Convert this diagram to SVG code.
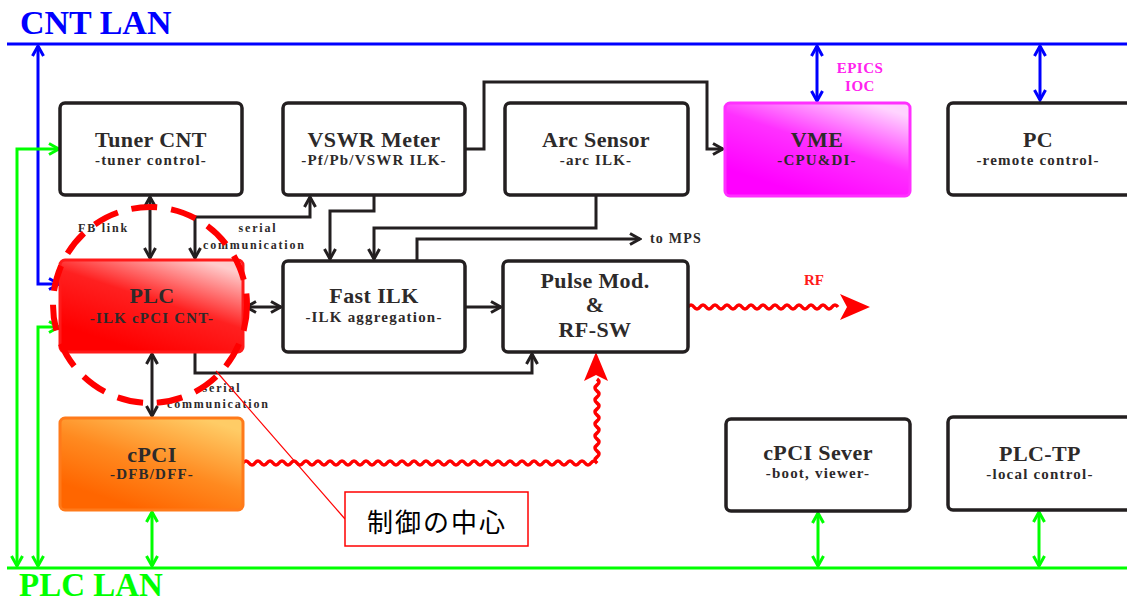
<svg xmlns="http://www.w3.org/2000/svg" width="1127" height="602" viewBox="0 0 1127 602">
<style>
.box{fill:#fff;stroke:#231f20;stroke-width:3.5}
.t{font-family:"Liberation Serif",serif;font-weight:bold;fill:#2d2a2a;text-anchor:middle}
.tt{font-size:22px;letter-spacing:0.4px}
.st{font-size:15px;letter-spacing:1.2px}
.lbl{font-family:"Liberation Serif",serif;font-weight:bold;fill:#2d2a2a;font-size:12px;letter-spacing:1.8px}
.dk{fill:none;stroke:#231f20;stroke-width:3}
.bl{fill:none;stroke:#0000ff;stroke-width:3}
.gr{fill:none;stroke:#00ff00;stroke-width:3}
.wave{fill:none;stroke:#ff0000;stroke-width:3.5}
.lan{font-family:"Liberation Serif",serif;font-weight:bold;font-size:34px}
</style>
<defs>
<marker id="aDk" markerUnits="userSpaceOnUse" markerWidth="14" markerHeight="14" viewBox="0 0 14 14" refX="12" refY="7" orient="auto-start-reverse"><path d="M2,1.5 L12,7 L2,12.5" fill="none" stroke="#231f20" stroke-width="3"/></marker>
<marker id="aBl" markerUnits="userSpaceOnUse" markerWidth="14" markerHeight="14" viewBox="0 0 14 14" refX="12" refY="7" orient="auto-start-reverse"><path d="M2,1.5 L12,7 L2,12.5" fill="none" stroke="#0000ff" stroke-width="3"/></marker>
<marker id="aGr" markerUnits="userSpaceOnUse" markerWidth="14" markerHeight="14" viewBox="0 0 14 14" refX="12" refY="7" orient="auto-start-reverse"><path d="M2,1.5 L12,7 L2,12.5" fill="none" stroke="#00ff00" stroke-width="3"/></marker>
<linearGradient id="gPlc" x1="0.3" y1="0.9" x2="0.85" y2="0.05"><stop offset="0" stop-color="#ff0000"/><stop offset="0.5" stop-color="#ff2020"/><stop offset="1" stop-color="#ffcccc"/></linearGradient>
<linearGradient id="gCpci" x1="0.3" y1="0.9" x2="0.85" y2="0.05"><stop offset="0" stop-color="#ff6600"/><stop offset="0.45" stop-color="#ff8a20"/><stop offset="1" stop-color="#ffcc66"/></linearGradient>
<linearGradient id="gVme" x1="0.3" y1="0.9" x2="0.85" y2="0.05"><stop offset="0" stop-color="#ff00ff"/><stop offset="0.5" stop-color="#ff30ff"/><stop offset="1" stop-color="#ffd4ff"/></linearGradient>
</defs>

<g id="lans">
<line x1="7" y1="44" x2="1127" y2="44" stroke="#0000ff" stroke-width="3"/>
<text x="20" y="34" class="lan" fill="#0000ff">CNT LAN</text>
<line x1="7" y1="568" x2="1127" y2="568" stroke="#00ff00" stroke-width="3"/>
<text x="19" y="596" class="lan" fill="#00ff00" style="font-size:33px">PLC LAN</text>
</g>

<g id="connectors">
<path class="bl" d="M38,46 V284 H59" marker-start="url(#aBl)" marker-end="url(#aBl)"/>
<path class="gr" d="M17,566 V149 H59" marker-start="url(#aGr)" marker-end="url(#aGr)"/>
<path class="gr" d="M38,566 V327 H59" marker-start="url(#aGr)" marker-end="url(#aGr)"/>
<path class="bl" d="M817,46 V101" marker-start="url(#aBl)" marker-end="url(#aBl)"/>
<path class="bl" d="M1040,46 V100" marker-start="url(#aBl)" marker-end="url(#aBl)"/>
<path class="dk" d="M150,197 V258" marker-start="url(#aDk)" marker-end="url(#aDk)"/>
<path class="dk" d="M195,258 V217 H310 V197" marker-start="url(#aDk)" marker-end="url(#aDk)"/>
<path class="dk" d="M466,149 H484 V82 H707 V149 H723" marker-end="url(#aDk)"/>
<path class="dk" d="M374,195 V211 H330 V259" marker-end="url(#aDk)"/>
<path class="dk" d="M596,195 V228 H374 V259" marker-end="url(#aDk)"/>
<path class="dk" d="M417,261 V239 H640" marker-end="url(#aDk)"/>
<path class="dk" d="M246,307 H281" marker-start="url(#aDk)" marker-end="url(#aDk)"/>
<path class="dk" d="M466,307 H501" marker-end="url(#aDk)"/>
<path class="dk" d="M195,353 V373 H532 V354" marker-end="url(#aDk)"/>
<path class="dk" d="M152,354 V416" marker-start="url(#aDk)" marker-end="url(#aDk)"/>
<path class="gr" d="M152,512 V566" marker-start="url(#aGr)" marker-end="url(#aGr)"/>
<path class="gr" d="M818,513 V566" marker-start="url(#aGr)" marker-end="url(#aGr)"/>
<path class="gr" d="M1039,512 V566" marker-start="url(#aGr)" marker-end="url(#aGr)"/>
<path class="wave" d="M243,463 q3,-4 6,0 t6,0 t6,0 t6,0 t6,0 t6,0 t6,0 t6,0 t6,0 t6,0 t6,0 t6,0 t6,0 t6,0 t6,0 t6,0 t6,0 t6,0 t6,0 t6,0 t6,0 t6,0 t6,0 t6,0 t6,0 t6,0 t6,0 t6,0 t6,0 t6,0 t6,0 t6,0 t6,0 t6,0 t6,0 t6,0 t6,0 t6,0 t6,0 t6,0 t6,0 t6,0 t6,0 t6,0 t6,0 t6,0 t6,0 t6,0 t6,0 t6,0 t6,0 t6,0 t6,0 t6,0 t6,0 t6,0 t6,0 t6,0 t6,0 q-4,-3 0,-6 t0,-6 t0,-6 t0,-6 t0,-6 t0,-6 t0,-6 t0,-6 t0,-6 t0,-6 t0,-6 t0,-6 t0,-6 t0,-6"/>
<polygon points="584,381 596,352 608,381 596,375" fill="#ff0000"/>
<path class="wave" d="M688,307 q3,-4 6,0 t6,0 t6,0 t6,0 t6,0 t6,0 t6,0 t6,0 t6,0 t6,0 t6,0 t6,0 t6,0 t6,0 t6,0 t6,0 t6,0 t6,0 t6,0 t6,0 t6,0 t6,0 t6,0 t6,0 t6,0"/>
<polygon points="840,294 870,307 840,320 847,307" fill="#ff0000"/>
<text x="814" y="285" class="t" style="font-size:15px;fill:#ff1a1a">RF</text>
<text x="860" y="73" class="t" style="font-size:15px;fill:#ff22ee;letter-spacing:0.5px">EPICS</text>
<text x="860" y="91" class="t" style="font-size:15px;fill:#ff22ee;letter-spacing:0.5px">IOC</text>
<text x="650" y="243" class="lbl" style="font-size:14px;letter-spacing:1.2px">to MPS</text>
<text x="78" y="232" class="lbl">FB link</text>
<text x="258" y="232" class="lbl" text-anchor="middle">serial</text>
<text x="203" y="249" class="lbl">communication</text>
<text x="222" y="392" class="lbl" text-anchor="middle">serial</text>
<text x="167" y="408" class="lbl">communication</text>
</g>

<g id="tuner">
<rect class="box" x="60" y="103" width="182" height="92" rx="5"/>
<text x="151" y="147" class="t tt">Tuner CNT</text>
<text x="151" y="165" class="t st">-tuner control-</text>
</g>
<g id="vswr">
<rect class="box" x="283" y="103" width="182" height="92" rx="5"/>
<text x="374" y="147" class="t tt">VSWR Meter</text>
<text x="374" y="165" class="t st">-Pf/Pb/VSWR ILK-</text>
</g>
<g id="arc">
<rect class="box" x="505" y="103" width="183" height="92" rx="5"/>
<text x="596" y="147" class="t tt">Arc Sensor</text>
<text x="596" y="165" class="t st">-arc ILK-</text>
</g>
<g id="vme">
<rect x="725" y="103" width="185" height="93" rx="5" fill="url(#gVme)" stroke="#ff30ff" stroke-width="3"/>
<text x="817" y="147" class="t tt">VME</text>
<text x="817" y="165" class="t st">-CPU&amp;DI-</text>
</g>
<g id="pc">
<rect class="box" x="948" y="103" width="185" height="92" rx="5"/>
<text x="1038" y="147" class="t tt">PC</text>
<text x="1038" y="165" class="t st">-remote control-</text>
</g>
<g id="plc">
<rect x="60" y="260" width="183" height="92" rx="5" fill="url(#gPlc)" stroke="#ff1a1a" stroke-width="3"/>
<text x="152" y="303" class="t tt">PLC</text>
<text x="152" y="323" class="t st">-ILK cPCI CNT-</text>
</g>
<g id="fastilk">
<rect class="box" x="283" y="261" width="182" height="91" rx="5"/>
<text x="374" y="303" class="t tt">Fast ILK</text>
<text x="374" y="322" class="t st">-ILK aggregation-</text>
</g>
<g id="pulsemod">
<rect class="box" x="503" y="261" width="185" height="91" rx="5"/>
<text x="595" y="288" class="t tt">Pulse Mod.</text>
<text x="595" y="312" class="t tt">&amp;</text>
<text x="595" y="337" class="t tt">RF-SW</text>
</g>
<g id="cpci">
<rect x="60" y="418" width="183" height="92" rx="5" fill="url(#gCpci)" stroke="#ff7a1a" stroke-width="3"/>
<text x="152" y="462" class="t tt">cPCI</text>
<text x="152" y="479" class="t st">-DFB/DFF-</text>
</g>
<g id="cpciserver">
<rect class="box" x="726" y="419" width="184" height="92" rx="5"/>
<text x="818" y="460" class="t tt">cPCI Sever</text>
<text x="818" y="478" class="t st">-boot, viewer-</text>
</g>
<g id="plctp">
<rect class="box" x="948" y="417" width="185" height="93" rx="5"/>
<text x="1040" y="461" class="t tt">PLC-TP</text>
<text x="1040" y="479" class="t st">-local control-</text>
</g>

<g id="callout">
<ellipse cx="150" cy="305" rx="97" ry="98" fill="none" stroke="#ff0000" stroke-width="6" stroke-dasharray="26 14"/>
<line x1="216" y1="371" x2="345" y2="519" stroke="#ff0000" stroke-width="1.2"/>
<rect x="345" y="492" width="183" height="54" fill="#fff" stroke="#ff0000" stroke-width="1.5"/>
<text x="437" y="532" text-anchor="middle" style="font-family:'Noto Sans CJK JP','Noto Sans CJK SC',sans-serif;font-size:26px;letter-spacing:2px;fill:#000">制御の中心</text>
</g>
</svg>
